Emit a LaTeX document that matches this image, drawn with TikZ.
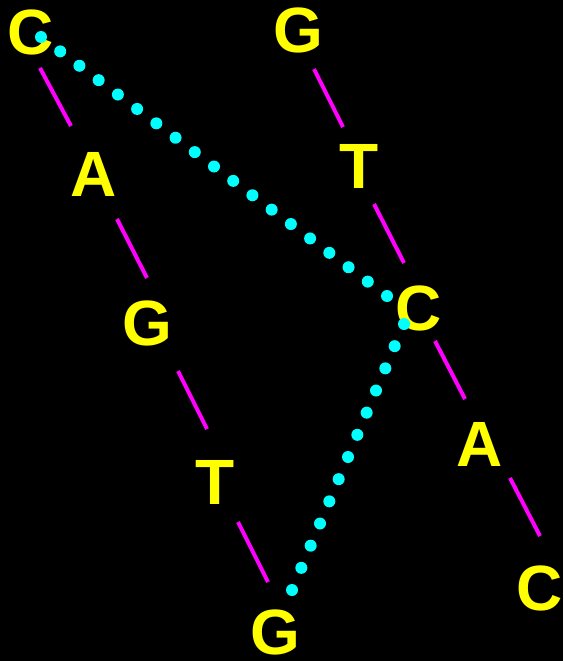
\documentclass[tikz,border=0pt]{standalone}
\usepackage{fontspec}
\setmainfont{Liberation Sans}
\usetikzlibrary{calc}
\definecolor{baseyellow}{RGB}{255,255,0}
\definecolor{bondpink}{RGB}{255,0,255}
\definecolor{paircyan}{RGB}{0,255,255}

\begin{document}
\begin{tikzpicture}[
    x=1pt, y=-1pt,
    base/.style={text=baseyellow, inner sep=0pt, font=\fontsize{64}{64}\selectfont\bfseries},
    bond/.style={draw=bondpink, line width=4pt},
    pair/.style={fill=paircyan}
    ]

\useasboundingbox[fill=black] (0,0) rectangle (563,661);

% left strand
\node[base] (l1) at (31,32)   {C};
\node[base] (l2) at (94,174)  {A};
\node[base] (l3) at (147,323) {G};
\node[base] (l4) at (215,482) {T};
\node[base] (l5) at (275,632) {G};

% right strand
\node[base] (r1) at (298,30)  {G};
\node[base] (r2) at (359,166) {T};
\node[base] (r3) at (419,308) {C};
\node[base] (r4) at (480,444) {A};
\node[base] (r5) at (540,588) {C};

% backbone pieces
\draw[bond] (40,68)   -- ++(31,58);
\draw[bond] (117,219) -- ++(30,59);
\draw[bond] (178,371) -- ++(29,58);
\draw[bond] (238,522) -- ++(30,60);

\draw[bond] (314,69)  -- ++(29,58);
\draw[bond] (374,204) -- ++(30,59);
\draw[bond] (435,341) -- ++(30,58);
\draw[bond] (510,478) -- ++(30,58);

% dotted pairing
\coordinate (d1) at (41,37);
\coordinate (d2) at (387,296);
\coordinate (d3) at (404,324);
\coordinate (d4) at (292,590);

\foreach \i in {0,...,18}
    \fill[pair] ($(d1)!\i/18!(d2)$) circle (6);
\foreach \i in {0,...,12}
    \fill[pair] ($(d3)!\i/12!(d4)$) circle (6);

\end{tikzpicture}
\end{document}
